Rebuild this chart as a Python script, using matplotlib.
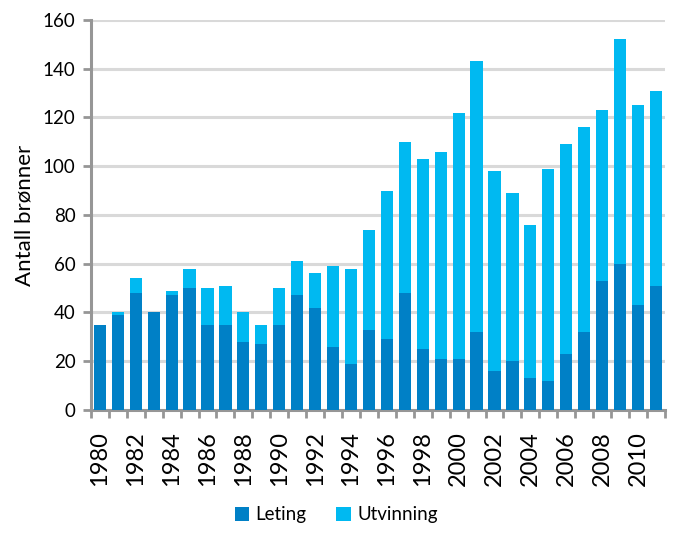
import matplotlib
matplotlib.use("Agg")
import matplotlib.pyplot as plt
import numpy as np

# ==============================
# DATA
# ==============================
years = list(range(1980, 2012))
leting = [35, 39, 48, 40, 47, 50, 35, 35, 28, 27, 35, 47, 42, 26, 19, 33,
          29, 48, 25, 21, 21, 32, 16, 20, 13, 12, 23, 32, 53, 60, 43, 51]
utvinning = [0, 1, 6, 0, 2, 8, 15, 16, 12, 8, 15, 14, 14, 33, 39, 41,
             61, 62, 78, 85, 101, 111, 82, 69, 63, 87, 86, 84, 70, 92, 82, 80]

C_LETING = "#0080C6"
C_UTV = "#00B9F1"
C_AXIS = "#969696"
C_GRID = "#D9D9D9"

plt.rcParams['font.family'] = ['Lato', 'DejaVu Sans']

fig = plt.figure(figsize=(6.89, 5.38), dpi=100)
ax = fig.add_axes([0.132, 0.238, 0.833, 0.725])

x = np.arange(len(years))
w = 0.68
ax.bar(x, leting, w, color=C_LETING, label="Leting", zorder=3)
ax.bar(x, utvinning, w, bottom=leting, color=C_UTV, label="Utvinning", zorder=3)

ax.set_xlim(-0.5, len(years) - 0.5)
ax.set_ylim(0, 160)
ax.set_yticks(range(0, 161, 20))
ax.yaxis.grid(True, color=C_GRID, linewidth=2.2, zorder=0)

# category boundary ticks, labels every other year
ax.set_xticks(np.arange(-0.5, len(years)), minor=False)
ax.set_xticklabels([])
ax.set_xticks(x[::2], minor=True)
ax.set_xticklabels([str(y) for y in years[::2]], minor=True, rotation=90,
                   fontsize=17)
ax.tick_params(axis="x", which="major", length=6, width=2, color=C_AXIS,
               direction="out")
ax.tick_params(axis="x", which="minor", length=0, pad=15)
ax.tick_params(axis="y", length=6, width=2, color=C_AXIS, labelsize=13.5,
               pad=5)

for s in ["top", "right"]:
    ax.spines[s].set_visible(False)
for s in ["left", "bottom"]:
    ax.spines[s].set_color(C_AXIS)
    ax.spines[s].set_linewidth(2.2)

ax.set_ylabel("Antall brønner", fontsize=16, labelpad=6)

fig.legend(loc="center", bbox_to_anchor=(0.488, 0.043), ncol=2,
           frameon=False, fontsize=13.5, handlelength=0.75, handleheight=0.75,
           handletextpad=0.35, columnspacing=1.6, borderpad=0)

fig.savefig("out.png", dpi=100)
